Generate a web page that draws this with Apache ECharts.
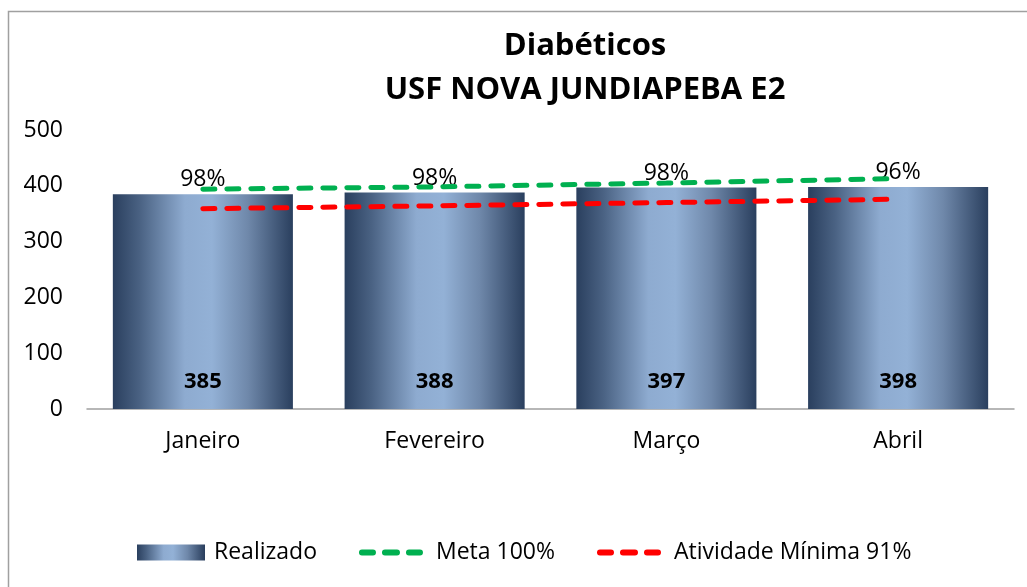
<!DOCTYPE html>
<html><head><meta charset="utf-8">
<script src="https://cdn.jsdelivr.net/npm/echarts@6/dist/echarts.min.js"></script>
<style>html,body{margin:0;padding:0;background:#fff}#c{width:1027px;height:587px}</style>
</head><body><div id="c"></div>
<script>
const categories = ['Janeiro', 'Fevereiro', 'Março', 'Abril'];
const realizado = [385, 388, 397, 398];
const meta100 = [394, 398, 405, 413];
const atividadeMinima = [359, 364, 370, 376];
const percentLabels = ['98%', '98%', '98%', '96%'];
const yTicks = {min: 0, max: 500, interval: 100};

const FONT = '"Open Sans", Lato, sans-serif';
const barGrad = new echarts.graphic.LinearGradient(0, 0, 1, 0, [
  {offset: 0, color: '#2a3f5e'},
  {offset: 0.15, color: '#4a6283'},
  {offset: 0.4, color: '#8eabd0'},
  {offset: 0.55, color: '#93b1d6'},
  {offset: 0.75, color: '#6f88aa'},
  {offset: 1, color: '#2a3f5e'}
]);
const legendGrad = new echarts.graphic.LinearGradient(0, 0, 1, 0, [
  {offset: 0, color: '#2a3f5e'},
  {offset: 0.13, color: '#4a6283'},
  {offset: 0.37, color: '#8eabd0'},
  {offset: 0.5, color: '#93b1d6'},
  {offset: 0.7, color: '#6f88aa'},
  {offset: 0.94, color: '#2a3f5e'},
  {offset: 1, color: '#2a3f5e'}
]);
const rectIcon = 'path://M0,0 M72,16 M0,0 h68 v16 h-68 z';
const dashIcon = 'path://M0,0 M72,16 ' +
  'M3,5 h11 a3,3 0 0 1 0,6 h-11 a3,3 0 0 1 0,-6 z ' +
  'M26,5 h12 a3,3 0 0 1 0,6 h-12 a3,3 0 0 1 0,-6 z ' +
  'M50,5 h11 a3,3 0 0 1 0,6 h-11 a3,3 0 0 1 0,-6 z';

const chart = echarts.init(document.getElementById('c'), null, {renderer: 'canvas'});
chart.setOption({
  animation: false,
  textStyle: {fontFamily: FONT},
  graphic: [{type: 'rect', shape: {x: 8.5, y: 11.5, width: 1040, height: 600}, style: {fill: 'none', stroke: '#a0a0a0', lineWidth: 1.5}, z: -1}],
  title: {
    text: 'Diabéticos\nUSF NOVA JUNDIAPEBA E2',
    left: 580, top: 19, textAlign: 'center',
    textStyle: {fontFamily: FONT, fontWeight: 'bold', fontSize: 31, lineHeight: 44, color: '#000'}
  },
  grid: {left: 87, right: 13, top: 130, bottom: 178, containLabel: false},
  legend: {
    top: 541, left: 137, padding: 0,
    itemGap: 42,
    itemWidth: 72, itemHeight: 16,
    textStyle: {fontFamily: FONT, fontSize: 23, color: '#000'},
    data: [
      {name: 'Realizado', icon: rectIcon, itemStyle: {color: legendGrad}},
      {name: 'Meta 100%', icon: dashIcon},
      {name: 'Atividade Mínima 91%', icon: dashIcon}
    ]
  },
  xAxis: {
    type: 'category', data: categories,
    axisLine: {lineStyle: {color: '#a0a0a0', width: 1.5}},
    axisTick: {show: false},
    axisLabel: {fontFamily: FONT, fontSize: 23, color: '#000', margin: 21}
  },
  yAxis: {
    type: 'value', min: yTicks.min, max: yTicks.max, interval: yTicks.interval,
    axisLine: {show: false}, axisTick: {show: false}, splitLine: {show: false},
    axisLabel: {fontFamily: FONT, fontSize: 23, color: '#000', margin: 24}
  },
  series: [
    {
      name: 'Realizado', type: 'bar', data: realizado, barWidth: '77.7%',
      itemStyle: {color: barGrad},
      label: {show: true, position: 'insideBottom', distance: 16, fontFamily: FONT, fontWeight: 'bold', fontSize: 22, color: '#000'}
    },
    {
      name: 'pct', type: 'bar', data: realizado, barWidth: '77.7%', barGap: '-100%',
      itemStyle: {color: 'rgba(0,0,0,0)'}, silent: true, legendHoverLink: false,
      label: {show: true, position: 'top', distance: 3, fontFamily: FONT, fontSize: 23, color: '#000',
        formatter: p => percentLabels[p.dataIndex]}
    },
    {
      name: 'Meta 100%', type: 'line', data: meta100, symbol: 'none', z: 5,
      lineStyle: {color: '#00b050', width: 5, type: [12, 12], cap: 'round'},
      itemStyle: {color: '#00b050'}
    },
    {
      name: 'Atividade Mínima 91%', type: 'line', data: atividadeMinima, symbol: 'none', z: 5,
      lineStyle: {color: '#ff0000', width: 5, type: [12, 12], cap: 'round'},
      itemStyle: {color: '#ff0000'}
    }
  ]
});
</script></body></html>
